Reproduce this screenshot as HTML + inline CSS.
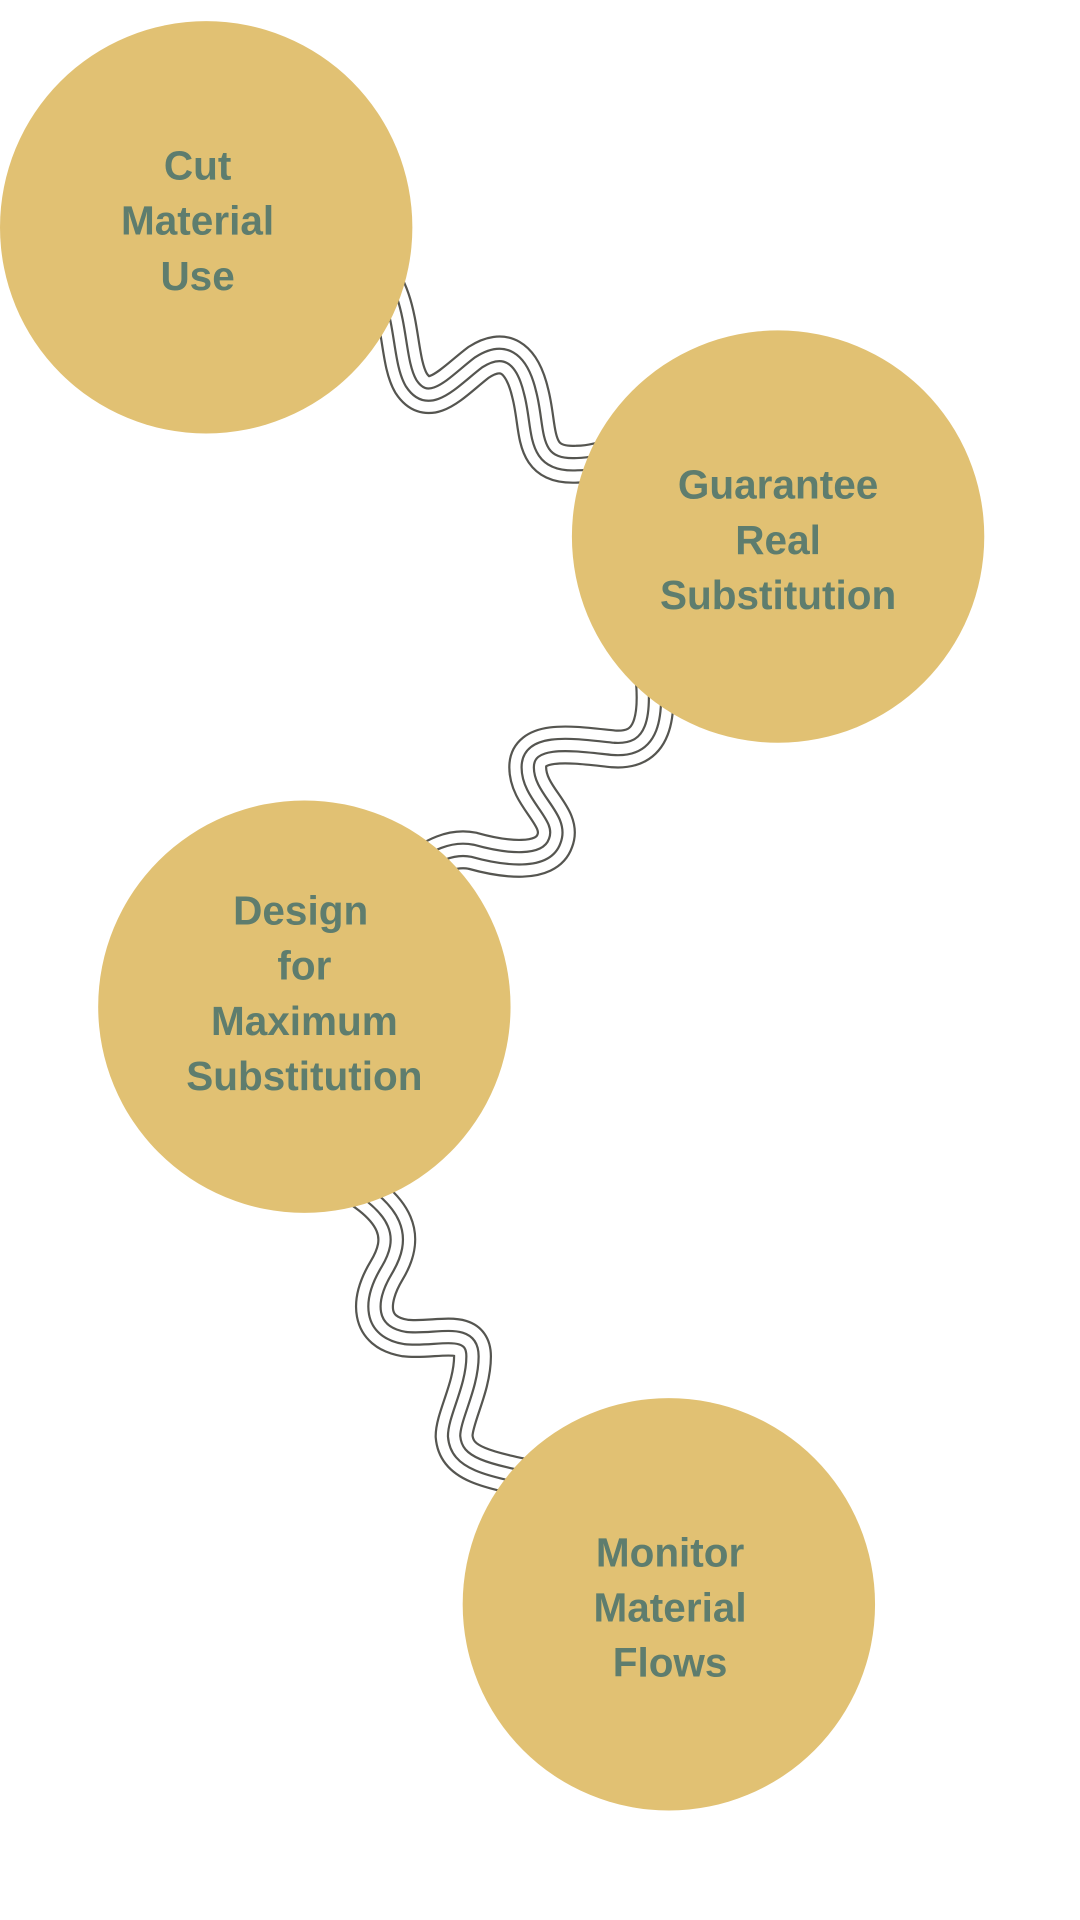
<!DOCTYPE html>
<html><head><style>
html,body{margin:0;padding:0;background:#fff;}
svg{display:block;}
text{font-family:"Liberation Sans",sans-serif;font-weight:bold;fill:#5e7d6e;font-size:33px;text-anchor:middle;}
</style></head><body>
<svg width="1080" height="1920" viewBox="0 0 880 1564" xmlns="http://www.w3.org/2000/svg">
<defs>
<path id="w1" d="M300,215 C330,240 322,290 335,312 C350,335 370,310 390,295 C410,282 425,290 432,320 C440,350 432,380 470,378 C485,378 500,372 520,366"/>
<path id="w2" d="M530,530 C540,590 530,612 500,610 C470,607 430,600 430,625 C430,650 460,665 452,685 C445,705 410,700 385,693 C370,690 355,695 330,715"/>
<path id="w3" d="M270,955 C330,985 330,1010 315,1035 C300,1060 300,1085 330,1090 C355,1093 385,1080 385,1105 C385,1130 370,1155 370,1170 C372,1195 400,1198 460,1210"/>
</defs>
<g fill="none" stroke-linecap="butt">
<g stroke="#555550" stroke-width="31.8"><use href="#w1"/><use href="#w2"/><use href="#w3"/></g>
<g stroke="#fff" stroke-width="28.2"><use href="#w1"/><use href="#w2"/><use href="#w3"/></g>
<g stroke="#555550" stroke-width="11.8"><use href="#w1"/><use href="#w2"/><use href="#w3"/></g>
<g stroke="#fff" stroke-width="8.2"><use href="#w1"/><use href="#w2"/><use href="#w3"/></g>
</g>
<g fill="#e1c173">
<circle cx="168" cy="185" r="168"/>
<circle cx="634" cy="437" r="168"/>
<circle cx="248" cy="820" r="168"/>
<circle cx="545" cy="1307" r="168"/>
</g>
<text x="161" y="146">Cut</text>
<text x="161" y="191">Material</text>
<text x="161" y="236">Use</text>
<text x="634" y="406">Guarantee</text>
<text x="634" y="451">Real</text>
<text x="634" y="496">Substitution</text>
<text x="245" y="753">Design</text>
<text x="248" y="798">for</text>
<text x="248" y="843">Maximum</text>
<text x="248" y="888">Substitution</text>
<text x="546" y="1276">Monitor</text>
<text x="546" y="1321">Material</text>
<text x="546" y="1366">Flows</text>
</svg>
</body></html>
